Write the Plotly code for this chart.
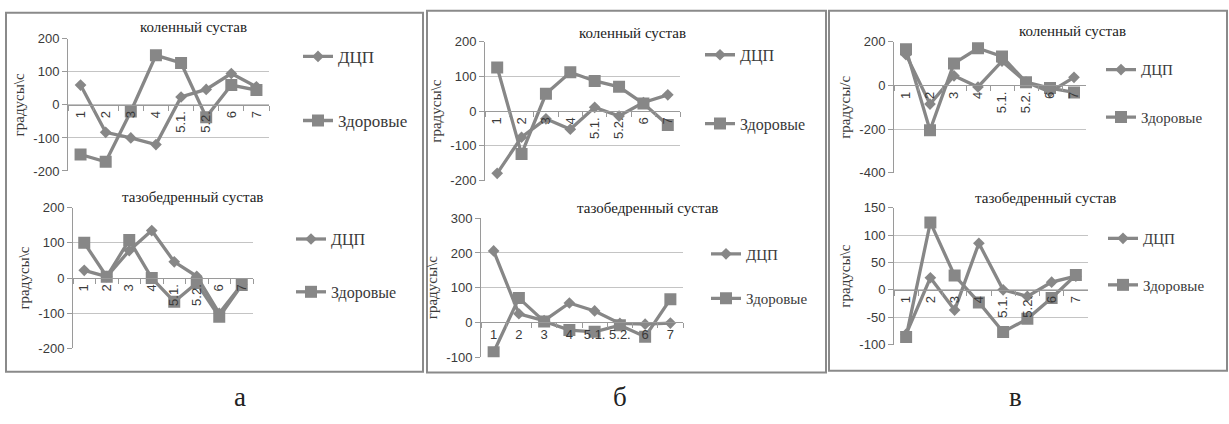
import plotly.graph_objects as go

W, H = 1229, 424

categories = ["1", "2", "3", "4", "5.1.", "5.2.", "6", "7"]
series_names = ["ДЦП", "Здоровые"]

# Panel а
a_knee_dcp = [60, -83, -100, -120, 24, 47, 95, 55]
a_knee_healthy = [-150, -172, -20, 150, 127, -37, 60, 45]
a_hip_dcp = [22, 4, 78, 135, 46, 5, -100, -18]
a_hip_healthy = [100, 4, 108, 0, -67, -14, -110, -20]

# Panel б
b_knee_dcp = [-179, -75, -22, -52, 11, -14, 25, 47]
b_knee_healthy = [126, -123, 50, 112, 87, 70, 22, -40]
b_hip_dcp = [206, 25, 5, 56, 33, -3, -5, -2]
b_hip_healthy = [-86, 70, 3, -22, -27, -8, -41, 67]

# Panel в
v_knee_dcp = [141, -85, 44, -7, 111, 15, -30, 37]
v_knee_healthy = [166, -205, 101, 170, 133, 15, -12, -32]
v_hip_dcp = [-81, 22, -37, 85, 0, -12, 14, 25]
v_hip_healthy = [-86, 123, 26, -23, -77, -53, -15, 27]

ticks_200 = [-200, -100, 0, 100, 200]
ticks_300 = [-100, 0, 100, 200, 300]
ticks_400 = [-400, -200, 0, 200]
ticks_150 = [-100, -50, 0, 50, 100, 150]

title_knee = "коленный сустав"
title_hip = "тазобедренный сустав"
ytitle_bs = "градусы\\с"
ytitle_fs = "градусы/с"
panel_letters = ["а", "б", "в"]

LINE = "#878787"
GRID = "#c4c4c4"
AXIS = "#9a9a9a"
TXT = "#3a3a3a"
SANS = "Liberation Sans"
SERIF = "Liberation Serif"

def px(x):
    return x / W

def py(y):
    return 1 - y / H

subplots = [
    dict(d=a_knee_dcp, h=a_knee_healthy, x0=68, x1=269, yt=33, yb=170, rng=[-200, 200], tv=ticks_200,
         ang=-90, title=title_knee, tx=193, ty=21, lx=298, ly1=55, ly2=118, yt_text=ytitle_bs, fs=17),
    dict(d=a_hip_dcp, h=a_hip_healthy, x0=73, x1=253, yt=208, yb=354, rng=[-200, 200], tv=ticks_200,
         ang=-90, title=title_hip, tx=192, ty=197, lx=291, ly1=245, ly2=298, yt_text=ytitle_bs, fs=16),
    dict(d=b_knee_dcp, h=b_knee_healthy, x0=485, x1=680, yt=36, yb=180, rng=[-200, 200], tv=ticks_200,
         ang=-90, title=title_knee, tx=632, ty=27, lx=700, ly1=54, ly2=123, yt_text=ytitle_bs, fs=16),
    dict(d=b_hip_dcp, h=b_hip_healthy, x0=481, x1=683, yt=219, yb=363, rng=[-100, 300], tv=ticks_300,
         ang=0, title=title_hip, tx=647, ty=208, lx=706, ly1=261, ly2=307, yt_text=ytitle_bs, fs=15),
    dict(d=v_knee_dcp, h=v_knee_healthy, x0=894, x1=1086, yt=36, yb=172, rng=[-400, 200], tv=ticks_400,
         ang=-90, title=title_knee, tx=1072, ty=25, lx=1101, ly1=70, ly2=119, yt_text=ytitle_fs, fs=15),
    dict(d=v_hip_dcp, h=v_hip_healthy, x0=894, x1=1088, yt=208, yb=350, rng=[-100, 150], tv=ticks_150,
         ang=-90, title=title_hip, tx=1045, ty=198, lx=1103, ly1=245, ly2=293, yt_text=ytitle_bs, fs=15),
]

fig = go.Figure()
annotations = []
shapes = []

for i, s in enumerate(subplots, start=1):
    sfx = "" if i == 1 else str(i)
    legname = "legend" if i == 1 else f"legend{i}"
    for name, vals, sym, size in [(series_names[0], s["d"], "diamond", 9),
                                  (series_names[1], s["h"], "square", 12)]:
        fig.add_trace(go.Scatter(
            x=categories, y=vals, name=name, mode="lines+markers",
            line=dict(color=LINE, width=3.3),
            marker=dict(symbol=sym, size=size, color=LINE),
            xaxis=f"x{sfx}", yaxis=f"y{sfx}",
            legend=legname, legendgroup=f"{i}-{name}",
        ))
    ymin, ymax = s["rng"]
    zero_px = s["yt"] + (ymax - 0) / (ymax - ymin) * (s["yb"] - s["yt"])
    fig.layout[f"xaxis{sfx}"] = dict(
        domain=[px(s["x0"]), px(s["x1"])], anchor="free", position=py(zero_px),
        type="category", categoryorder="array", categoryarray=categories,
        range=[-0.5, len(categories) - 0.5], showgrid=False, zeroline=False,
        showline=True, linecolor=AXIS, linewidth=1, ticks="outside", tickson="boundaries",
        ticklen=5, tickcolor=AXIS, tickangle=s["ang"],
        tickfont=dict(family=SANS, size=13, color=TXT), fixedrange=True,
    )
    fig.layout[f"yaxis{sfx}"] = dict(
        domain=[py(s["yb"]), py(s["yt"])], anchor=f"x{sfx}", range=s["rng"],
        tickvals=s["tv"], ticktext=[str(v) for v in s["tv"]],
        showgrid=True, gridcolor=GRID, gridwidth=1, zeroline=False,
        showline=True, linecolor=AXIS, linewidth=1, ticks="outside", ticklen=5, tickcolor=AXIS,
        tickfont=dict(family=SANS, size=13, color=TXT),
        title=dict(text=s["yt_text"], font=dict(family=SERIF, size=15, color=TXT), standoff=5),
        fixedrange=True,
    )
    fig.layout[legname] = dict(
        x=px(s["lx"]), y=py(s["ly1"] - 22), xanchor="left", yanchor="top",
        font=dict(family=SERIF, size=s["fs"], color=TXT), bgcolor="rgba(0,0,0,0)",
        tracegroupgap=(s["ly2"] - s["ly1"]) - 24, itemwidth=30,
    )
    annotations.append(dict(
        text=s["title"], x=px(s["tx"]), y=py(s["ty"]), xref="paper", yref="paper",
        showarrow=False, font=dict(family=SERIF, size=15, color="#222"),
        xanchor="center", yanchor="middle",
    ))

for (x0, y0, x1, y1) in [(6, 6, 423, 378), (427, 4, 826, 379), (829, 4, 1227, 377)]:
    shapes.append(dict(type="rect", xref="paper", yref="paper",
                       x0=px(x0), x1=px(x1), y0=py(y1), y1=py(y0),
                       line=dict(color="#8a8a8a", width=2)))

for letter, lx in zip(panel_letters, [240, 620, 1015]):
    annotations.append(dict(
        text=letter, x=px(lx), y=py(404), xref="paper", yref="paper", showarrow=False,
        font=dict(family=SERIF, size=27, color="#222"), xanchor="center", yanchor="middle",
    ))

fig.update_layout(
    width=W, height=H, margin=dict(l=0, r=0, t=0, b=0),
    paper_bgcolor="white", plot_bgcolor="white",
    showlegend=True, annotations=annotations, shapes=shapes,
)

fig.write_html("out.html", config={"displayModeBar": False},
               post_script="document.body.style.margin='0';")
